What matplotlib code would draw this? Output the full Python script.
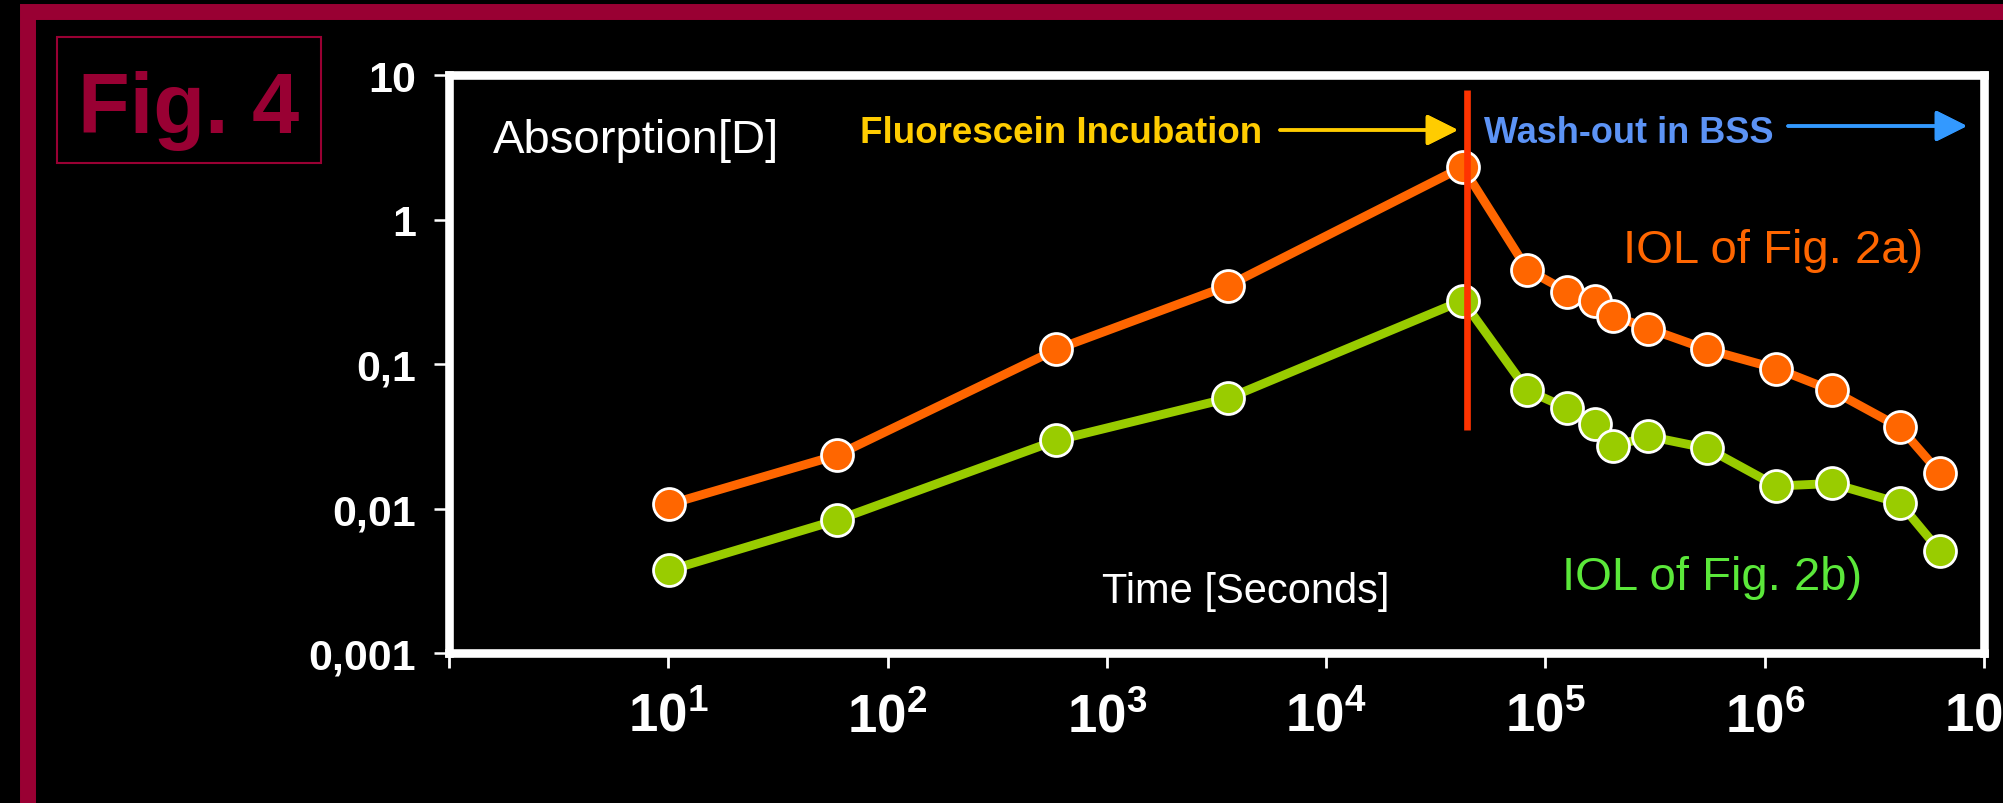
import matplotlib
matplotlib.use("Agg")

import matplotlib.pyplot as plt
from matplotlib.patches import Rectangle


# Datos
time_s = [10.1, 58.5, 587, 3565, 41900, 82800, 126000, 169000, 204000,
          295000, 547000, 1.13e6, 2.03e6, 4.14e6, 6.3e6]

absorption_2a = [0.0107, 0.0233, 0.126, 0.348, 2.31, 0.450, 0.317, 0.275,
                 0.216, 0.176, 0.126, 0.093, 0.0656, 0.0364, 0.0175]

absorption_2b = [0.00374, 0.0083, 0.0296, 0.0578, 0.275, 0.0656, 0.0493,
                 0.0382, 0.0269, 0.0316, 0.0261, 0.0143, 0.0149, 0.0109,
                 0.00507]

washout_start = 43700
washout_line_y = [0.0347, 7.88]

x_ticks = [1, 1e1, 1e2, 1e3, 1e4, 1e5, 1e6, 1e7]
x_tick_labels = ["", r"$\mathbf{10^{1}}$", r"$\mathbf{10^{2}}$",
                 r"$\mathbf{10^{3}}$", r"$\mathbf{10^{4}}$",
                 r"$\mathbf{10^{5}}$", r"$\mathbf{10^{6}}$",
                 r"$\mathbf{10^{7}}$"]

y_ticks = [1e-3, 1e-2, 1e-1, 1, 10]
y_tick_labels = ["0,001", "0,01", "0,1", "1", "10"]


# Colores
MAROON = "#990033"
ORANGE = "#FF6600"
GREEN = "#99CC00"
GREEN_TEXT = "#5BE83A"
RED = "#FF3300"
GOLD = "#FFCC00"
BLUE = "#3399FF"
BLUE_TEXT = "#5C93F5"

W, H = 2003, 804


def px(x, y):
    """Pixeles de la imagen -> fracción de la figura."""
    return x / W, 1 - y / H


plt.rcParams["font.family"] = ["Liberation Sans", "DejaVu Sans"]
plt.rcParams["mathtext.fontset"] = "custom"
plt.rcParams["mathtext.rm"] = "Liberation Sans"
plt.rcParams["mathtext.bf"] = "Liberation Sans:bold"


# ============================================================
# Figura y ejes
# ============================================================

fig = plt.figure(figsize=(W / 100, H / 100), dpi=100, facecolor="black")

left, top = px(449, 76)
right, bottom = px(1984, 654)
ax = fig.add_axes([left, bottom, right - left, top - bottom])
ax.set_facecolor("black")

ax.set_xscale("log")
ax.set_yscale("log")
ax.set_xlim(1, 1e7)
ax.set_ylim(1e-3, 10)

for spine in ax.spines.values():
    spine.set_color("white")
    spine.set_linewidth(6.2)

ax.set_xticks(x_ticks, x_tick_labels)
ax.set_yticks(y_ticks, y_tick_labels)
ax.minorticks_off()

ax.tick_params(axis="x", colors="white", length=11, width=2,
               direction="out", pad=17, labelsize=38)
ax.tick_params(axis="y", colors="white", length=11, width=1.8,
               direction="out", pad=12.5, labelsize=31)
for lab in ax.get_yticklabels():
    lab.set_fontweight("bold")


# ============================================================
# Series
# ============================================================

ax.plot(time_s, absorption_2a, color=ORANGE, lw=6.4, marker="o",
        ms=23, mfc=ORANGE, mec="white", mew=2, zorder=3)
ax.plot(time_s, absorption_2b, color=GREEN, lw=6.4, marker="o",
        ms=23, mfc=GREEN, mec="white", mew=2, zorder=3)

ax.plot([washout_start, washout_start], washout_line_y, color=RED,
        lw=4.8, solid_capstyle="butt", zorder=4)


# ============================================================
# Textos y flechas
# ============================================================

fig.text(*px(493, 153), "Absorption[D]", color="white", fontsize=34,
         ha="left", va="baseline")
fig.text(*px(1102, 603), "Time [Seconds]", color="white", fontsize=30,
         ha="left", va="baseline")
fig.text(*px(1623, 263), "IOL of Fig. 2a)", color=ORANGE, fontsize=34,
         ha="left", va="baseline")
fig.text(*px(1562, 590), "IOL of Fig. 2b)", color=GREEN_TEXT, fontsize=34,
         ha="left", va="baseline")

fig.text(*px(860, 143), "Fluorescein Incubation", color=GOLD,
         fontsize=26.5, fontweight="bold", ha="left", va="baseline")
fig.text(*px(1484, 143), "Wash-out in BSS", color=BLUE_TEXT,
         fontsize=26, fontweight="bold", ha="left", va="baseline")

fig.add_artist(plt.annotate(
    "", xy=px(1458, 131), xytext=px(1280, 131),
    xycoords="figure fraction", textcoords="figure fraction",
    arrowprops=dict(arrowstyle="-|>", color=GOLD, lw=2.5,
                    mutation_scale=48, shrinkA=0, shrinkB=0),
))
fig.add_artist(plt.annotate(
    "", xy=px(1967, 127), xytext=px(1788, 127),
    xycoords="figure fraction", textcoords="figure fraction",
    arrowprops=dict(arrowstyle="-|>", color=BLUE, lw=2.5,
                    mutation_scale=48, shrinkA=0, shrinkB=0),
))


# ============================================================
# Marco y etiqueta "Fig. 4"
# ============================================================

x0, y0 = px(27.5, 12.5)
frame = Rectangle((x0, -0.2), 1.5, y0 + 0.2, transform=fig.transFigure,
                  fill=False, edgecolor=MAROON, lw=11.5)
fig.patches.append(frame)

bx0, by0 = px(57, 164)
bx1, by1 = px(321, 38)
fig.patches.append(Rectangle((bx0, by0), bx1 - bx0, by1 - by0,
                             transform=fig.transFigure, fill=False,
                             edgecolor=MAROON, lw=1.5))
fig.text(*px(189, 133), "Fig. 4", color=MAROON, fontsize=61,
         fontweight="bold", ha="center", va="baseline")


fig.savefig("out.png", dpi=100, facecolor="black")
plt.close(fig)
